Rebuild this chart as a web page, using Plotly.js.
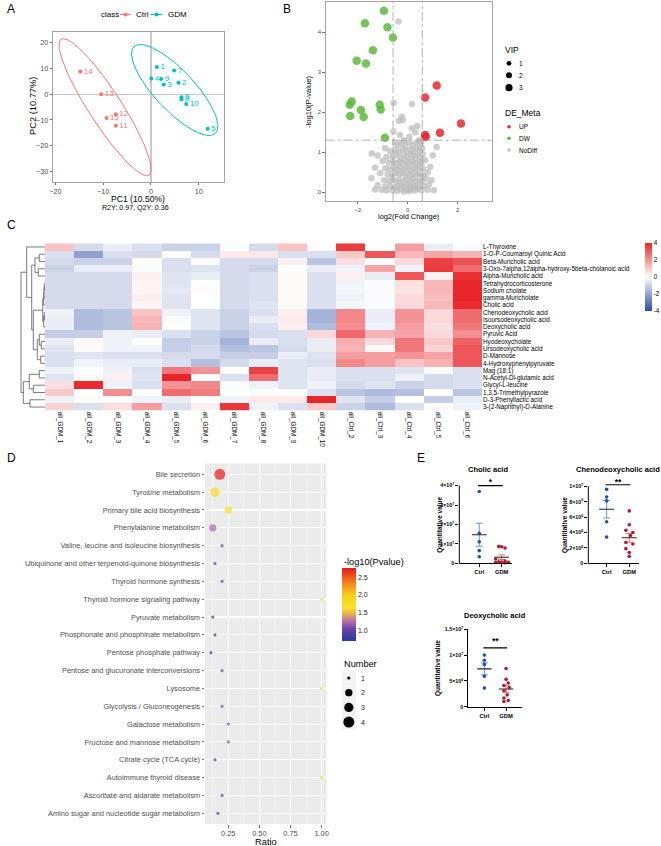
<!DOCTYPE html>
<html>
<head>
<meta charset="utf-8">
<script src="https://cdn.plot.ly/plotly-3.0.1.min.js"></script>
<style>
html,body{margin:0;padding:0;background:#ffffff;}
#chart{width:661px;height:846px;}
</style>
</head>
<body>
<div id="chart"></div>
<script>
// ================= DATA =================
// ---- Panel A: PCA scores ----
const pcaCtrlLabels = ['14','13','12','15','11'];
const pcaCtrlPC1 = [-14.8,-10.4,-7.35,-9.3,-7.35];
const pcaCtrlPC2 = [8.8,0.0,-7.8,-9.2,-12.2];
const pcaGdmLabels = ['1','7','4','9','2','3','6','8','10','5'];
const pcaGdmPC1 = [1.25,4.86,0.07,2.15,5.77,2.7,6.4,6.4,7.4,11.9];
const pcaGdmPC2 = [10.6,9.2,6.1,5.95,4.5,3.75,-1.2,-1.95,-3.8,-13.4];
// confidence ellipses: centre and semi-axis vectors
const ellipseCtrl = [-9.6, -5.0, -9.2, 26.4, 2.88, 3.5];
const ellipseGdm  = [4.98, 1.65, -8.52, 16.85, 3.03, 5.34];

// ---- Panel B: volcano ----
const volUpX = [1.16,0.70,2.13,1.29,0.69,0.72];
const volUpY = [2.67,2.37,1.72,1.49,1.43,1.39];
const volDwX = [-0.95,-1.71,-0.81,-0.59,-1.39,-2.04,-1.67,-2.24,-2.32,-1.87,-1.12,-1.08,-2.30,-1.76,-0.91];
const volDwY = [4.54,4.23,4.13,3.87,3.55,3.29,3.22,2.27,2.19,2.06,2.19,2.07,1.91,1.88,1.36];
const volNdX = [-0.37,-0.56,0.17,-0.24,-0.20,-0.35,0.16,0.38,0.07,-0.31,-0.57,1.16,-1.44,0.30,
 -0.50,-0.40,-0.25,-0.10,0.05,0.20,0.35,0.50,0.56,-0.15,0.45,
 -0.70,-0.50,-0.35,-0.20,-0.05,0.10,0.22,0.35,0.48,0.57,-0.90,
 -1.20,-0.85,-0.60,-0.45,-0.30,-0.15,0.00,0.12,0.25,0.38,0.50,0.60,1.00,
 -1.00,-0.75,-0.58,-0.45,-0.32,-0.20,-0.08,0.05,0.18,0.30,0.42,0.55,0.70,
 -1.30,-0.90,-0.70,-0.55,-0.42,-0.30,-0.15,-0.02,0.10,0.22,0.35,0.48,0.60,0.90,
 -1.10,-0.80,-0.62,-0.50,-0.35,-0.22,-0.10,0.02,0.15,0.28,0.40,0.52,0.64,0.80,
 -1.45,-0.95,-0.75,-0.60,-0.45,-0.32,-0.18,-0.05,0.08,0.20,0.32,0.45,0.58,0.72,0.95,
 -1.20,-0.90,-0.70,-0.55,-0.40,-0.25,-0.10,0.02,0.12,0.25,0.38,0.50,0.65,0.85,
 -1.30,-1.05,-0.85,-0.60,-0.42,-0.28,-0.15,-0.05,0.05,0.15,0.28,0.40,0.55,0.80,1.05];
const volNdY = [4.27,2.24,2.21,1.89,1.81,1.79,1.60,1.66,1.39,1.43,1.52,1.13,0.97,1.50,
 1.25,1.18,1.22,1.17,1.24,1.18,1.23,1.20,1.28,1.30,1.30,
 1.03,1.06,1.02,1.07,1.03,1.06,1.02,1.08,1.04,1.10,1.10,
 0.92,0.88,0.90,0.93,0.87,0.91,0.88,0.93,0.89,0.92,0.88,0.95,0.92,
 0.78,0.74,0.77,0.72,0.76,0.73,0.78,0.74,0.77,0.73,0.76,0.74,0.80,
 0.62,0.60,0.58,0.62,0.57,0.61,0.58,0.63,0.57,0.61,0.58,0.63,0.60,0.64,
 0.48,0.45,0.42,0.47,0.44,0.48,0.42,0.46,0.43,0.47,0.44,0.46,0.42,0.50,
 0.35,0.30,0.28,0.32,0.27,0.30,0.26,0.31,0.28,0.33,0.27,0.30,0.28,0.34,0.30,
 0.18,0.14,0.16,0.12,0.15,0.17,0.13,0.18,0.14,0.16,0.13,0.18,0.15,0.20,
 0.07,0.06,0.04,0.05,0.03,0.08,0.02,0.06,0.03,0.07,0.04,0.08,0.05,0.06,0.05];
const fcCut = 0.585;     // log2(1.5)
const pCut = 1.301;      // -log10(0.05)

// ---- Panel C: heatmap (z-scores) ----
const heatCols = ['all_GDM_1','all_GDM_2','all_GDM_3','all_GDM_4','all_GDM_5','all_GDM_6','all_GDM_7','all_GDM_8','all_GDM_9','all_GDM_10','all_Ctrl_2','all_Ctrl_3','all_Ctrl_4','all_Ctrl_5','all_Ctrl_6'];
const heatRows = ['L-Thyroxine','1-O-P-Coumaroyl Quinic Acid','Beta-Muricholic acid','3-Oxo-7alpha,12alpha-hydroxy-5beta-cholanoic acid','Alpha-Muricholic acid','Tetrahydrocorticosterone','Sodium cholate','gamma-Muricholate','Cholic acid','Chenodeoxycholic acid','Isoursodeoxycholic acid','Deoxycholic acid','Pyruvic Acid','Hyodeoxycholate','Ursodeoxycholic acid','D-Mannose','4-Hydroxyphenylpyruvate','Mag (18:1)','N-Acetyl-Dl-glutamic acid','Glycyl-L-leucine','1,3,5-Trimethylpyrazole','D-3-Phenyllactic acid','3-(2-Naphthyl)-D-Alanine'];
const heatZ = [
 [1.1,-0.8,-0.4,-0.7,-1.0,-1.0,-0.1,-0.8,1.1,-0.1, 3.6,0.0,1.8,-0.4,-0.1],
 [-0.7,-2.1,-0.7,-0.8,0.0,-0.8,0.4,0.4,-0.7,-0.7, 1.0,3.1,1.3,1.7,1.4],
 [-0.8,-1.0,-1.0,0.0,-0.7,-0.1,-0.8,-0.8,0.3,-1.3, 0.6,0.0,0.7,3.5,3.2],
 [-1.0,-0.4,-0.4,-0.1,-0.7,-0.6,-0.8,-1.0,0.0,-0.4, -0.3,1.7,-0.3,3.6,2.7],
 [-0.8,-0.8,-0.8,0.3,-0.6,-0.4,-0.8,-0.7,0.1,-0.7, 0.3,-0.4,3.1,0.3,3.8],
 [-0.8,-0.8,-0.8,0.2,-0.6,0.0,-0.8,-0.7,0.1,-0.7, -0.3,-0.1,0.6,1.3,4.0],
 [-0.8,-0.8,-0.8,0.2,-0.5,0.1,-0.8,-0.7,0.1,-0.7, -0.2,-0.1,0.5,1.3,4.0],
 [-0.8,-0.8,-0.8,0.3,-0.6,0.0,-0.8,-0.7,0.1,-0.7, -0.3,-0.1,0.7,1.2,4.0],
 [-0.8,-0.8,-0.8,0.2,-0.6,0.0,-0.8,-0.6,0.1,-0.7, -0.2,-0.1,0.7,1.3,3.9],
 [-0.3,-1.5,-1.3,1.1,-0.3,-0.6,-1.0,-0.7,0.3,-1.7, 2.2,-0.4,2.0,0.7,2.7],
 [-0.4,-1.5,-1.3,1.3,-0.1,-0.6,-1.0,-0.4,0.4,-1.7, 2.2,-0.4,2.0,0.7,2.7],
 [-0.4,-1.5,-1.3,1.4,0.0,-0.6,-1.0,-0.7,0.3,-1.5, 2.1,-0.3,1.8,0.6,2.5],
 [-1.1,-1.1,-0.3,-0.4,-0.7,-1.0,-1.3,-0.8,-0.7,0.7, 2.8,1.4,1.7,0.7,2.1],
 [-0.4,0.1,-0.3,0.0,-1.1,-1.0,-1.7,-0.4,-0.7,-0.4, 1.5,0.7,2.5,1.0,2.9],
 [-0.6,0.1,-0.3,-0.3,-1.1,-0.8,-1.4,-1.3,-0.8,-0.4, 1.4,0.1,2.5,0.8,3.1],
 [-0.7,-0.6,-0.7,-0.7,-0.8,-0.8,-1.1,-1.1,-0.4,-0.6, 1.8,1.8,2.0,1.7,3.1],
 [-0.7,-0.3,-0.4,-0.4,-0.7,-1.4,-0.8,-0.4,-0.6,-0.7, 2.2,1.8,1.1,1.4,3.1],
 [-0.3,0.0,-0.3,-0.7,2.5,2.0,0.0,3.5,-0.6,-0.4, -0.7,-0.7,-0.6,-0.1,-0.7],
 [-0.6,0.1,0.3,-0.6,4.0,0.0,-0.7,2.7,-0.6,-0.4, -0.7,-0.7,-0.3,-0.8,-0.7],
 [0.6,3.9,-0.3,-0.7,2.0,2.2,-0.1,-0.3,-0.6,-0.3, -0.8,-0.6,-1.0,-0.8,-0.7],
 [1.0,0.0,2.1,-0.1,2.7,2.4,0.0,-0.1,0.0,-0.7, -1.3,-1.5,-1.4,0.0,-1.3],
 [-0.3,0.1,0.0,-0.3,-0.4,0.0,-0.3,0.4,0.4,4.0, -0.6,-1.1,0.0,-1.1,-0.4],
 [0.8,-0.7,0.6,1.8,-0.7,0.3,3.7,-0.3,-0.7,1.0, -1.0,-1.5,-0.7,-0.1,-0.3]
];
// row dendrogram merges: [nodeA, nodeB, height]; leaves 0..22, merge k -> node 23+k
const dendMerges = [
 [5,6,0.7],[23,7,1.0],[24,8,1.3],[9,10,0.7],[26,11,1.3],[25,27,2.3],
 [13,14,3.7],[12,29,5.7],[15,16,4.3],[30,31,7.7],[28,32,11.7],
 [1,2,5.7],[3,4,6.7],[34,35,10],[36,33,13.3],[0,37,18.3],
 [17,18,5.7],[19,20,11.7],[21,22,15],[39,40,15.7],[42,41,21.7],[38,43,24]
];

// ---- Panel D: KEGG enrichment ----
const pathways = ['Bile secretion','Tyrosine metabolism','Primary bile acid biosynthesis','Phenylalanine metabolism','Valine, leucine and isoleucine biosynthesis','Ubiquinone and other terpenoid-quinone biosynthesis','Thyroid hormone synthesis','Thyroid hormone signaling pathway','Pyruvate metabolism','Phosphonate and phosphinate metabolism','Pentose phosphate pathway','Pentose and glucuronate interconversions','Lysosome','Glycolysis / Gluconeogenesis','Galactose metabolism','Fructose and mannose metabolism','Citrate cycle (TCA cycle)','Autoimmune thyroid disease','Ascorbate and aldarate metabolism','Amino sugar and nucleotide sugar metabolism'];
const pathRatio = [0.182,0.143,0.25,0.125,0.2,0.143,0.2,1.0,0.125,0.143,0.111,0.2,1.0,0.2,0.25,0.25,0.143,1.0,0.2,0.167];
const pathLogP  = [2.75,1.85,1.75,1.22,1.0,0.82,1.0,1.65,0.76,0.82,0.72,1.0,1.65,1.0,1.08,1.08,0.86,1.65,1.0,0.92];
const pathNumber = [4,3,2,2,1,1,1,1,1,1,1,1,1,1,1,1,1,1,1,1];

// ---- Panel E: quantitative values ----
const cholicCtrl = [3.7e7,1.55e7,1.11e7,0.65e7,0.34e7];
const cholicGdm  = [0.87e7,0.85e7,0.79e7,0.22e7,0.12e7,0.08e7,0.06e7,0.05e7,0.04e7,0.03e7];
const cholicGdmJit = [-0.13,0.0,0.15,-0.27,0.15,-0.13,0.0,0.3,-0.27,0.15];
const chenoCtrl = [9.6e6,8.6e6,8.1e6,5.4e6,3.4e6];
const chenoGdm  = [6.8e6,5.0e6,4.3e6,4.0e6,3.6e6,2.7e6,2.5e6,1.9e6,1.4e6,0.9e6];
const chenoGdmJit = [0,0,-0.15,0.16,0.05,-0.15,0.16,-0.15,0,0];
const deoxyCtrl = [10.0e6,9.0e6,8.2e6,5.9e6,3.6e6];
const deoxyGdm  = [7.4e6,5.3e6,4.6e6,4.1e6,3.7e6,3.1e6,2.3e6,1.7e6,1.2e6,1.0e6];
const deoxyGdmJit = [0,0,0.1,-0.1,0.15,-0.1,0.05,-0.1,0.1,-0.1];
const sigLevel = [4.0e7, 1.02e7, 1.14e7];
const sigStars = ['*','**','**'];

// ================= DRAWING =================
const W=661, H=846;
const px = p => p/W;
const py = p => 1 - p/H;
const FONT = 'Liberation Sans, Arial, sans-serif';
const traces = [], shapes = [], ann = [];

function txt(x,y,text,size,o){
  o = o||{};
  ann.push({xref:'paper',yref:'paper',x:px(x),y:py(y),text:text,showarrow:false,
    font:{family:FONT,size:size,color:o.color||'#000',weight:o.bold?'bold':'normal'},
    xanchor:o.xa||'center',yanchor:o.ya||'middle',textangle:o.angle||0});
}
function dot(x,y,d,color){
  shapes.push({type:'circle',xref:'paper',yref:'paper',xsizemode:'pixel',ysizemode:'pixel',
    xanchor:px(x),yanchor:py(y),x0:-d/2,x1:d/2,y0:-d/2,y1:d/2,fillcolor:color,line:{width:0}});
}
function seg(x0,y0,x1,y1,color,w){
  shapes.push({type:'line',xref:'paper',yref:'paper',x0:px(x0),y0:py(y0),x1:px(x1),y1:py(y1),line:{color:color,width:w}});
}
function box(x0,y0,x1,y1,fill){
  shapes.push({type:'rect',xref:'paper',yref:'paper',x0:px(x0),y0:py(y1),x1:px(x1),y1:py(y0),fillcolor:fill,line:{width:0},layer:'below'});
}

// ---- A ----
const ctrlA='#F8766D', gdmA='#00BFC4';
function ellipse(e){
  const xs=[],ys=[];
  for(let k=0;k<=144;k++){const t=2*Math.PI*k/144;
    xs.push(e[0]+e[2]*Math.cos(t)+e[4]*Math.sin(t));
    ys.push(e[1]+e[3]*Math.cos(t)+e[5]*Math.sin(t));}
  return [xs,ys];
}
const eC=ellipse(ellipseCtrl), eG=ellipse(ellipseGdm);
traces.push({type:'scatter',mode:'lines',x:eC[0],y:eC[1],xaxis:'x',yaxis:'y',line:{color:ctrlA,width:1}});
traces.push({type:'scatter',mode:'lines',x:eG[0],y:eG[1],xaxis:'x',yaxis:'y',line:{color:gdmA,width:1}});
traces.push({type:'scatter',mode:'markers+text',x:pcaCtrlPC1,y:pcaCtrlPC2,text:pcaCtrlLabels,textposition:'middle right',
  textfont:{family:FONT,size:8,color:ctrlA},marker:{size:4,color:ctrlA},xaxis:'x',yaxis:'y',cliponaxis:false});
traces.push({type:'scatter',mode:'markers+text',x:pcaGdmPC1,y:pcaGdmPC2,text:pcaGdmLabels,textposition:'middle right',
  textfont:{family:FONT,size:8,color:gdmA},marker:{size:4,color:gdmA},xaxis:'x',yaxis:'y',cliponaxis:false});
txt(5,9,'A',12,{xa:'left'});
txt(98.5,14.5,'class',8,{xa:'left'});
seg(120,14.5,131,14.5,ctrlA,1); dot(125.5,14.5,4,ctrlA); txt(134,14.5,'Ctrl',8,{xa:'left'});
seg(150.5,14.5,162.5,14.5,gdmA,1); dot(156.5,14.5,4,gdmA); txt(166,14.5,'GDM',8,{xa:'left'});
txt(138,198.8,'PC1 (10.50%)',8.6);
txt(135,208,'R2Y: 0.97, Q2Y: 0.36',7.1);
txt(33,106,'PC2 (10.77%)',9.3,{angle:-90});

// ---- B ----
traces.push({type:'scatter',mode:'markers',x:volNdX,y:volNdY,xaxis:'x2',yaxis:'y2',
  marker:{size:6.5,color:'#BDBDBD',opacity:0.75,line:{width:0}}});
traces.push({type:'scatter',mode:'markers',x:volDwX,y:volDwY,xaxis:'x2',yaxis:'y2',
  marker:{size:8.5,color:'#5DB83C',opacity:0.85,line:{width:0}}});
traces.push({type:'scatter',mode:'markers',x:volUpX,y:volUpY,xaxis:'x2',yaxis:'y2',
  marker:{size:8.5,color:'#E5282E',opacity:0.85,line:{width:0}}});
[-fcCut,fcCut].forEach(v=>shapes.push({type:'line',xref:'x2',yref:'y2 domain',x0:v,x1:v,y0:0,y1:1,line:{color:'#A0A0A0',width:0.8,dash:'dashdot'}}));
shapes.push({type:'line',xref:'x2 domain',yref:'y2',x0:0,x1:1,y0:pCut,y1:pCut,line:{color:'#A0A0A0',width:0.8,dash:'dashdot'}});
txt(281,9,'B',12,{xa:'left'});
txt(408,216.8,'log2(Fold Change)',7.4);
txt(309,102,'-log10(P-value)',7.6,{angle:-90});
txt(503,50,'VIP',8.5,{xa:'left'});
[[63.3,4.8,'1'],[75.3,6,'2'],[87.7,7.2,'3']].forEach(r=>{dot(509,r[0],r[1],'#000');txt(517,r[0],r[2],6.5,{xa:'left'});});
txt(503,113.3,'DE_Meta',8.5,{xa:'left'});
[[126.7,'#E5282E','UP'],[138.2,'#5DB83C','DW'],[150,'#C4C4C4','NoDiff']].forEach(r=>{dot(509,r[0],3.6,r[1]);txt(517,r[0],r[2],6.5,{xa:'left'});});

// ---- C ----
const colIdx = heatCols.map((c,i)=>i), rowIdx = heatRows.map((r,i)=>i);
traces.push({type:'heatmap',z:heatZ,x:colIdx,y:rowIdx,xaxis:'x3',yaxis:'y3',zmin:-4,zmax:4,
  colorscale:[[0,'#2B4BA3'],[0.5,'#FFFFFF'],[1,'#E8262A']],
  colorbar:{x:px(645),xanchor:'left',y:py(277),yanchor:'middle',len:68,lenmode:'pixels',thickness:6.5,
    thicknessmode:'pixels',outlinewidth:0,xpad:0,ypad:0,tickvals:[-4,-2,0,2,4],ticktext:['-4','-2','0','2','4'],
    ticks:'',tickfont:{family:FONT,size:6.3,color:'#000'}}});
// dendrogram
const nodePos = [];
rowIdx.forEach(i=>nodePos.push([i,0]));
const dX=[], dY=[];
dendMerges.forEach(m=>{
  const a=nodePos[m[0]], b=nodePos[m[1]], h=m[2];
  dX.push(a[1],h,h,b[1],null); dY.push(a[0],a[0],b[0],b[0],null);
  nodePos.push([(a[0]+b[0])/2,h]);
});
traces.push({type:'scatter',mode:'lines',x:dX,y:dY,xaxis:'x4',yaxis:'y4',line:{color:'#5A5A5A',width:0.8}});
txt(5,225,'C',12,{xa:'left'});

// ---- D ----
const numSize = [3.2,7.3,9.2,11];
traces.push({type:'scatter',mode:'markers',x:pathRatio,y:pathways.map((p,i)=>i),xaxis:'x5',yaxis:'y5',
  marker:{size:pathNumber.map(n=>numSize[n-1]),color:pathLogP,cmin:0.69,cmax:2.75,
    colorscale:[[0,'#2A3A9E'],[0.1,'#4B3FA5'],[0.17,'#6E46A8'],[0.27,'#B46CA9'],[0.36,'#E5A75A'],[0.45,'#F3E32A'],[0.62,'#F7D21C'],[0.78,'#F28B1F'],[1,'#E8191E']],
    line:{width:0},
    colorbar:{x:px(341.7),xanchor:'left',y:py(604.7),yanchor:'middle',len:72.7,lenmode:'pixels',thickness:14,
      thicknessmode:'pixels',outlinewidth:0,xpad:0,ypad:0,tickvals:[1.0,1.5,2.0,2.5],ticktext:['1.0','1.5','2.0','2.5'],
      ticks:'',tickfont:{family:FONT,size:7,color:'#222'}}}});
shapes.push({type:'rect',xref:'x5 domain',yref:'y5 domain',x0:0,x1:1,y0:0,y1:1,fillcolor:'#EBEBEB',line:{width:0},layer:'below'});
txt(5,458,'D',12,{xa:'left'});
txt(265.8,841.5,'Ratio',9.3);
txt(341.5,561.5,'-log10(Pvalue)',9.2,{xa:'left'});
txt(341.5,664.3,'Number',9.2,{xa:'left'});
[678,692.7,707.4,722.1].forEach((yy,i)=>{box(341.7,yy-7.2,356,yy+7.2,'#F2F2F2');dot(348.8,yy,numSize[i],'#000');txt(359,yy,String(i+1),7,{xa:'left',color:'#222'});});

// ---- E ----
const ctrlE='#1F4FB0', gdmE='#B31B2C', ctrlErr='#6D93D6', gdmErr='#E0707A';
function meanSem(a){const n=a.length;const m=a.reduce((s,v)=>s+v,0)/n;
  const sd=Math.sqrt(a.reduce((s,v)=>s+(v-m)*(v-m),0)/(n-1));return [m,sd/Math.sqrt(n)];}
function dotPlot(xa,ya,ctrl,gdm,gdmJit,sig,star,starY){
  const groups=[[ctrl,ctrl.map(()=>0),0,ctrlE,ctrlErr],[gdm,gdmJit,1,gdmE,gdmErr]];
  groups.forEach(g=>{
    const ms=meanSem(g[0]), c=g[2];
    traces.push({type:'scatter',mode:'lines',x:[c-0.16,c+0.16,null,c,c,null,c-0.16,c+0.16],
      y:[ms[0]+ms[1],ms[0]+ms[1],null,ms[0]+ms[1],ms[0]-ms[1],null,ms[0]-ms[1],ms[0]-ms[1]],
      xaxis:xa,yaxis:ya,line:{color:g[4],width:1}});
    traces.push({type:'scatter',mode:'lines',x:[c-0.33,c+0.33],y:[ms[0],ms[0]],xaxis:xa,yaxis:ya,line:{color:'#222',width:1.1}});
    traces.push({type:'scatter',mode:'markers',x:g[1].map(j=>c+j),y:g[0],xaxis:xa,yaxis:ya,cliponaxis:false,
      marker:{size:3.6,color:g[3],line:{width:0}}});
  });
  traces.push({type:'scatter',mode:'lines',x:[-0.05,1.05],y:[sig,sig],xaxis:xa,yaxis:ya,line:{color:'#000',width:1.1}});
  traces.push({type:'scatter',mode:'text',x:[0.5],y:[starY],text:[star],xaxis:xa,yaxis:ya,cliponaxis:false,
    textposition:'middle center',textfont:{family:FONT,size:8.5,color:'#000',weight:'bold'}});
}
dotPlot('x6','y6',cholicCtrl,cholicGdm,cholicGdmJit,sigLevel[0],sigStars[0],4.13e7);
dotPlot('x7','y7',chenoCtrl,chenoGdm,chenoGdmJit,sigLevel[1],sigStars[1],1.043e7);
dotPlot('x8','y8',deoxyCtrl,deoxyGdm,deoxyGdmJit,sigLevel[2],sigStars[2],1.25e7);
shapes.push({type:'line',xref:'x6 domain',yref:'y6',x0:0,x1:0,y0:0,y1:4e7,line:{color:'#000',width:1}});
shapes.push({type:'line',xref:'x7 domain',yref:'y7',x0:0,x1:0,y0:0,y1:1e7,line:{color:'#000',width:1}});
txt(415,458,'E',12,{xa:'left'});
txt(488,469.5,'Cholic acid',7.5,{bold:true});
txt(618,469.5,'Chenodeoxycholic acid',7.5,{bold:true});
txt(495,615.7,'Deoxycholic acid',7.5,{bold:true});
txt(439.3,524.5,'Quantitative value',6.5,{bold:true,angle:-90});
txt(564.3,524.8,'Quantitative value',6.5,{bold:true,angle:-90});
txt(438,668,'Quantitative value',6.5,{bold:true,angle:-90});

// ================= LAYOUT =================
const tickA = {family:FONT,size:7.2,color:'#4D4D4D'};
function boxAxis(dom,range,tv,anchor,font){
  return {domain:dom,range:range,tickvals:tv,anchor:anchor,showgrid:false,zeroline:false,showline:true,mirror:true,
    linecolor:'#8C8C8C',linewidth:0.8,ticks:'outside',ticklen:2.5,tickwidth:0.7,tickcolor:'#333',tickfont:font};
}
const eTick = {family:FONT,size:5.3,color:'#000',weight:'bold'};
function eX(dom,range,anchor){return {domain:dom,range:range,anchor:anchor,tickvals:[0,1],ticktext:['Ctrl','GDM'],
  showgrid:false,zeroline:false,showline:true,linecolor:'#000',linewidth:1,ticks:'outside',ticklen:3,tickwidth:1,tickcolor:'#000',
  tickfont:{family:FONT,size:5.8,color:'#000',weight:'bold'}};}
function eY(dom,range,anchor,tv,tt,line){return {domain:dom,range:range,anchor:anchor,tickvals:tv,ticktext:tt,
  showgrid:false,zeroline:false,showline:line,linecolor:'#000',linewidth:1,ticks:'outside',ticklen:3,tickwidth:1,tickcolor:'#000',tickfont:eTick};}

const xA = boxAxis([px(53),px(224)],[-20.5,15.3],[-20,-10,0,10],'y',tickA);
xA.zeroline=true; xA.zerolinecolor='#C8C8C8'; xA.zerolinewidth=1.3;
const yA = boxAxis([py(182),py(32)],[-34.1,24.2],[-30,-20,-10,0,10,20],'x',tickA);
yA.zeroline=true; yA.zerolinecolor='#C8C8C8'; yA.zerolinewidth=1.3;
const tickB = {family:FONT,size:6.0,color:'#4D4D4D'};

const layout = {
  width:W,height:H,margin:{l:0,r:0,t:0,b:0},paper_bgcolor:'#fff',plot_bgcolor:'rgba(0,0,0,0)',
  showlegend:false,font:{family:FONT},hovermode:false,
  xaxis:xA, yaxis:yA,
  xaxis2:boxAxis([px(325.7),px(491.7)],[-3.28,3.36],[-2,0,2],'y2',tickB),
  yaxis2:boxAxis([py(201),py(2)],[-0.22,4.76],[0,1,2,3,4],'x2',tickB),
  xaxis3:{domain:[px(45),px(482)],range:[-0.5,14.5],anchor:'y3',tickvals:colIdx,ticktext:heatCols,tickangle:90,
    ticks:'',showgrid:false,zeroline:false,showline:false,tickfont:{family:FONT,size:6.3,color:'#000'}},
  yaxis3:{domain:[py(410.7),py(243.3)],range:[22.5,-0.5],anchor:'x3',side:'right',tickvals:rowIdx,ticktext:heatRows,
    ticks:'',showgrid:false,zeroline:false,showline:false,tickfont:{family:FONT,size:6.3,color:'#000'}},
  xaxis4:{domain:[px(20),px(45)],range:[25,0],anchor:'y4',visible:false},
  yaxis4:{domain:[py(410.7),py(243.3)],range:[22.5,-0.5],anchor:'x4',visible:false},
  xaxis5:{domain:[px(205),px(326.7)],range:[0.063,1.041],anchor:'y5',tickvals:[0.25,0.5,0.75,1.0],ticktext:['0.25','0.50','0.75','1.00'],
    showgrid:true,gridcolor:'#FFFFFF',gridwidth:1.1,zeroline:false,showline:false,ticks:'outside',ticklen:2.5,tickwidth:0.7,tickcolor:'#333',
    tickfont:{family:FONT,size:7.4,color:'#4D4D4D'},
    minor:{tickvals:[0.125,0.375,0.625,0.875],showgrid:true,gridcolor:'#FFFFFF',gridwidth:0.5,ticks:''}},
  yaxis5:{domain:[py(824),py(463.6)],range:[19.6,-0.6],anchor:'x5',tickvals:pathways.map((p,i)=>i),ticktext:pathways,
    showgrid:true,gridcolor:'#FFFFFF',gridwidth:1.1,zeroline:false,showline:false,ticks:'outside',ticklen:2.5,tickwidth:0.7,tickcolor:'#333',
    tickfont:{family:FONT,size:7.4,color:'#4D4D4D'}},
  xaxis6:eX([px(459.3),px(512)],[-0.89,1.46],'y6'),
  yaxis6:eY([py(563.3),py(472)],[0,4.7e7],'x6',[0,1e7,2e7,3e7,4e7],['0','1×10<sup>7</sup>','2×10<sup>7</sup>','3×10<sup>7</sup>','4×10<sup>7</sup>'],false),
  xaxis7:eX([px(588.3),px(639)],[-0.81,1.43],'y7'),
  yaxis7:eY([py(563.3),py(472.4)],[0,1.18e7],'x7',[0,2e6,4e6,6e6,8e6,1e7],['0','2×10<sup>6</sup>','4×10<sup>6</sup>','6×10<sup>6</sup>','8×10<sup>6</sup>','1×10<sup>7</sup>'],false),
  xaxis8:eX([px(468.3),px(521.7)],[-0.74,1.72],'y8'),
  yaxis8:eY([py(706.7),py(629.3)],[0,1.5e7],'x8',[0,5e6,1e7,1.5e7],['0','5×10<sup>6</sup>','1×10<sup>7</sup>','1.5×10<sup>7</sup>'],true),
  shapes:shapes, annotations:ann
};
traces.forEach(t=>{t.showlegend=false; t.hoverinfo='skip';});
Plotly.newPlot('chart',traces,layout,{staticPlot:true,displayModeBar:false});
</script>
</body>
</html>
